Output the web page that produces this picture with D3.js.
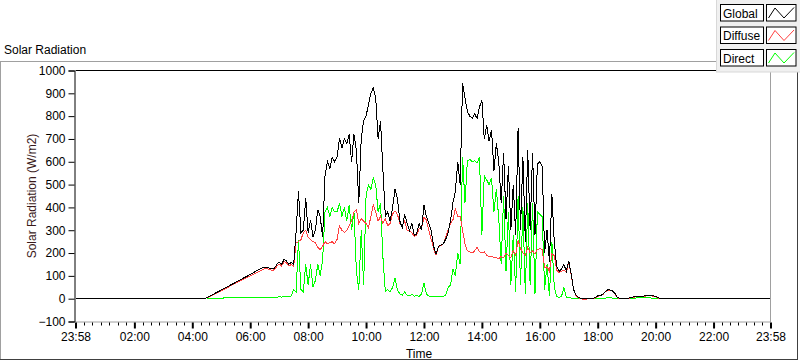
<!DOCTYPE html>
<html><head><meta charset="utf-8">
<script src="https://cdn.jsdelivr.net/npm/d3@7"></script>
<style>
body{margin:0;background:#fff;}
svg{display:block;font-family:"Liberation Sans",Arial,sans-serif;}
</style></head><body>
<svg id="c" width="800" height="361"></svg>
<script>
// ---- data (minutes of day; samples every 5 min from 04:30) ----
const startMin = 270, stepMin = 5;
const globalVals = [
 4,10,15,21,27,32,
 38,44,49,55,61,66,72,78,83,89,95,100,
 107,112,118,124,130,135,138,137,134,131,133,150,
 160,150,172,165,150,160,150,290,470,290,300,440,
 290,345,270,300,390,360,270,540,600,570,620,600,
 620,705,660,700,680,720,600,720,650,420,700,780,
 800,850,900,924,880,700,780,560,360,380,340,400,
 480,440,340,310,370,330,300,330,275,285,330,300,
 410,360,330,300,230,195,230,235,240,260,290,340,
 420,470,600,500,946,880,820,800,790,810,790,840,
 870,700,760,690,740,560,680,600,420,640,350,580,
 300,500,280,750,300,620,250,650,300,640,280,590,
 600,580,200,300,160,460,250,140,120,130,150,120,
 165,110,40,15,5,1,0,0,0,0,0,5,
 12,13,18,30,38,39,35,25,8,2,0,0,
 0,3,6,8,9,10,10,11,13,16,14,12,
 10,4,0,0,0,0,0];
const diffuseVals = [
 3,8,13,19,24,29,
 35,40,46,51,57,62,68,73,79,84,89,94,
 100,105,110,116,121,127,131,131,128,125,126,142,
 152,143,162,157,143,150,143,245,250,258,289,300,
 270,260,250,245,225,215,230,250,240,245,250,240,
 260,320,300,290,300,320,340,380,390,330,350,340,
 330,310,360,410,380,340,360,330,350,320,330,370,
 385,370,330,320,340,300,295,290,272,280,305,310,
 355,345,300,260,220,190,228,232,240,270,300,330,
 345,395,360,360,300,240,210,205,200,210,225,205,
 200,205,190,185,185,180,180,175,185,180,200,190,
 180,210,190,255,220,200,190,225,200,210,195,215,
 220,215,135,140,120,195,190,125,115,120,125,115,
 160,105,38,13,4,0,-3,-3,0,0,0,4,
 11,12,17,28,36,37,33,23,7,1,0,0,
 0,2,5,7,8,9,9,10,12,15,13,11,
 9,3,0,0,0,0,0];
const directVals = [
 0,0,1,1,2,2,
 2,3,3,3,3,3,4,4,4,5,5,5,
 5,5,6,6,6,6,6,5,5,6,7,7,
 8,7,8,10,9,12,40,30,255,40,30,150,
 60,150,50,80,150,100,170,380,400,360,400,380,
 380,420,360,400,340,410,300,380,120,40,300,60,
 450,500,480,530,500,380,420,180,30,40,30,50,
 90,40,20,15,30,15,12,20,10,15,10,20,
 70,20,12,10,10,8,8,10,10,15,50,60,
 130,100,200,150,620,420,605,610,600,605,595,620,
 280,540,520,500,530,380,480,350,150,450,120,380,
 60,280,30,450,60,400,20,420,60,420,20,380,
 370,360,40,150,10,250,50,10,5,10,50,5,
 5,3,2,1,0,0,0,0,0,0,0,0,
 0,0,1,2,4,4,3,1,0,0,0,0,
 0,1,2,2,3,3,3,3,3,3,3,2,
 2,1,0,0,0,0,0];
// night (zero) samples for the global trace
const nightTimes = [-2, 265, 1235, 1438];
const nightVals = [0, 0, 0, 0];
const domainMin = [-2, 1438];
const xTickMinutes = [-2,120,240,360,480,600,720,840,960,1080,1200,1320,1438];
const xTickLabels = ["23:58","02:00","04:00","06:00","08:00","10:00","12:00","14:00","16:00","18:00","20:00","22:00","23:58"];
const yTicks = [-100,0,100,200,300,400,500,600,700,800,900,1000];
const seriesNames = ["Global","Diffuse","Direct"];
const seriesColors = ["#000000","#ff4040","#00ff00"];

// ---- layout ----
const svg = d3.select("#c");
const L = 75.5, R = 770.5, T = 70.5, B = 321.5;
const x = d3.scaleLinear().domain(domainMin).range([L, R]);
const y = d3.scaleLinear().domain([-100, 1000]).range([B, T]);

// outer panel
svg.append("line").attr("x1",0).attr("x2",797).attr("y1",61.5).attr("y2",61.5).attr("stroke","#a0a0a0");
svg.append("line").attr("x1",0.5).attr("x2",0.5).attr("y1",61.5).attr("y2",360).attr("stroke","#a0a0a0");
svg.append("line").attr("x1",0).attr("x2",798).attr("y1",359.5).attr("y2",359.5).attr("stroke","#404040");
svg.append("line").attr("x1",797.5).attr("x2",797.5).attr("y1",61.5).attr("y2",360).attr("stroke","#404040");

svg.append("text").attr("x",4).attr("y",54).attr("font-size",12).attr("fill","#000").text("Solar Radiation");

// plot background
svg.append("rect").attr("x",L).attr("y",T).attr("width",R-L).attr("height",B-T).attr("fill","#fff");

const toPts = vals => vals.map((v,i)=>[startMin+i*stepMin, v]);
const night = nightTimes.map((t,i)=>[t, nightVals[i]]);
const series = [
  {name:seriesNames[0], color:seriesColors[0], pts:night.slice(0,2).concat(toPts(globalVals)).concat(night.slice(2))},
  {name:seriesNames[1], color:seriesColors[1], pts:toPts(diffuseVals)},
  {name:seriesNames[2], color:seriesColors[2], pts:toPts(directVals)}
];
const line = d3.line().x(d=>x(d[0])).y(d=>y(d[1]));
const g = svg.append("g");
// draw direct, diffuse, then global on top
[2,1,0].forEach(k=>{
  g.append("path").attr("d",line(series[k].pts)).attr("fill","none")
   .attr("stroke",series[k].color).attr("stroke-width",1)
   .attr("shape-rendering","crispEdges");
});

// frame lines
svg.append("line").attr("x1",L).attr("x2",R).attr("y1",T).attr("y2",T).attr("stroke","#000");
svg.append("line").attr("x1",R).attr("x2",R).attr("y1",T).attr("y2",B+0.5).attr("stroke","#a0a0a0");
svg.append("line").attr("x1",L).attr("x2",R).attr("y1",B+0.5).attr("y2",B+0.5).attr("stroke","#a0a0a0");

// y axis
const yAxis = d3.axisLeft(y).tickValues(yTicks).tickFormat(d3.format("d")).tickSize(6).tickPadding(3);
const ya = svg.append("g").attr("transform",`translate(${L-1},0)`).call(yAxis);
ya.select(".domain").attr("stroke","#000");
ya.selectAll("text").attr("font-size",12).attr("font-family","Liberation Sans, Arial, sans-serif").attr("fill","#000");

// x axis
const xAxis = d3.axisBottom(x).tickValues(xTickMinutes).tickFormat((d,i)=>xTickLabels[i]).tickSize(6).tickPadding(4);
const xa = svg.append("g").attr("transform",`translate(0,${B+1})`).call(xAxis);
xa.select(".domain").remove();
xa.selectAll(".tick line").attr("stroke","#000").attr("stroke-width",2);
xa.selectAll("text").attr("font-size",12).attr("font-family","Liberation Sans, Arial, sans-serif").attr("fill","#000");
// minor ticks
const minor = [];
for (let i=0;i<xTickMinutes.length-1;i++){
  const a=xTickMinutes[i], b=xTickMinutes[i+1];
  for(let j=1;j<7;j++) minor.push(a+(b-a)*j/7);
}
svg.append("g").selectAll("line").data(minor).join("line")
  .attr("x1",d=>Math.round(x(d))+0.5).attr("x2",d=>Math.round(x(d))+0.5)
  .attr("y1",B+1).attr("y2",B+4).attr("stroke","#000");

svg.append("text").attr("x",419).attr("y",358).attr("text-anchor","middle").attr("font-size",12).text("Time");
svg.append("text").attr("transform","translate(36,196) rotate(-90)").attr("text-anchor","middle")
  .attr("font-size",12).attr("fill","#3a1a1a").text("Solar Radiation (W/m2)");

// legend
const lg = svg.append("g");
lg.append("rect").attr("x",716.5).attr("y",-1).attr("width",84).attr("height",73).attr("fill","#f0f0f0").attr("stroke","#d8d8d8");
seriesNames.forEach((n,i)=>{
  const yy = 4.5 + i*22.5;
  lg.append("rect").attr("x",720.5).attr("y",yy).attr("width",43).attr("height",16.5).attr("fill","#fff").attr("stroke","#000");
  lg.append("text").attr("x",723).attr("y",yy+13).attr("font-size",12).text(n);
  lg.append("rect").attr("x",766.5).attr("y",yy).attr("width",29.5).attr("height",16.5).attr("fill","#fff").attr("stroke","#000");
  lg.append("path").attr("d",`M${768.5},${yy+13.5}L${775},${yy+3.5}L${784},${yy+13.5}L${794},${yy+3}`)
    .attr("fill","none").attr("stroke",seriesColors[i]).attr("stroke-width",1);
});
</script>
</body></html>
